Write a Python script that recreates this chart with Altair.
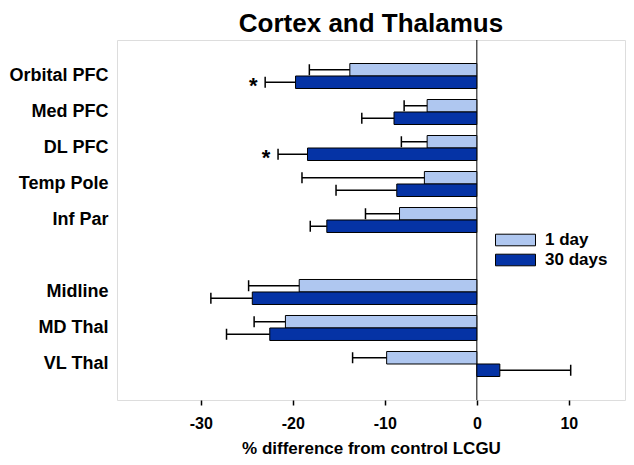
import altair as alt
import pandas as pd

# ---- data ----
regions = ["Orbital PFC", "Med PFC", "DL PFC", "Temp Pole", "Inf Par",
           "Midline", "MD Thal", "VL Thal"]
slots = ["Orbital PFC", "Med PFC", "DL PFC", "Temp Pole", "Inf Par", " ",
         "Midline", "MD Thal", "VL Thal"]
series = ["1 day", "30 days"]
day1 = [-13.8, -5.4, -5.4, -5.7, -8.4, -19.3, -20.8, -9.8]
day1_sem = [4.4, 2.5, 2.8, 13.3, 3.7, 5.5, 3.4, 3.7]
day30 = [-19.7, -9.0, -18.4, -8.7, -16.3, -24.4, -22.5, 2.5]
day30_sem = [3.3, 3.5, 3.2, 6.6, 1.8, 4.5, 4.7, 7.7]
sig30 = ["*", "", "*", "", "", "", "", ""]
x_ticks = [-30, -20, -10, 0, 10]
zero_line = [0]

rows = []
for i, r in enumerate(regions):
    for s, vals, sems, sig in ((series[0], day1, day1_sem, [""] * len(regions)),
                               (series[1], day30, day30_sem, sig30)):
        v, e = vals[i], sems[i]
        end = v + e if v > 0 else v - e
        rows.append(dict(region=r, series=s, value=v, end=end, star=sig[i]))
df = pd.DataFrame(rows)

FONT = "Arial, Liberation Sans, sans-serif"
TITLE_X = "% difference from control LCGU"

xscale = alt.Scale(domain=[-39.1, 16.1], nice=False, zero=False)
xaxis = alt.Axis(values=x_ticks, title=TITLE_X, grid=False, domain=False,
                 tickSize=5, tickColor="black", tickWidth=1.5,
                 labelFont=FONT, labelFontSize=16, labelFontWeight="bold",
                 labelColor="black", labelPadding=10,
                 labelExpr="toString(datum.value)",
                 titleFont=FONT, titleFontSize=17, titleFontWeight="bold",
                 titleColor="black", titlePadding=9)

yenc = alt.Y("region:N", title=None,
             scale=alt.Scale(domain=slots, paddingInner=0.3056, paddingOuter=0.653),
             axis=alt.Axis(ticks=False, domain=False, labelFont=FONT,
                           labelFontSize=18, labelFontWeight="bold",
                           labelColor="black", labelPadding=9, labelLimit=300))
yoff = alt.YOffset("series:N", scale=alt.Scale(domain=series, paddingInner=0, paddingOuter=0))

base = alt.Chart(df)

bars = base.mark_bar(stroke="black", strokeWidth=1).encode(
    x=alt.X("value:Q", scale=xscale, axis=xaxis),
    y=yenc, yOffset=yoff,
    color=alt.Color("series:N",
                    scale=alt.Scale(domain=series, range=["#AFC7F0", "#0533A5"]),
                    legend=alt.Legend(title=None, orient="none", legendX=378, legendY=190,
                                      symbolType="M-1,-0.29H1V0.29H-1Z", symbolSize=1600,
                                      symbolStrokeColor="black", symbolStrokeWidth=1,
                                      symbolOpacity=1, clipHeight=20, rowPadding=0,
                                      padding=0, labelOffset=9,
                                      labelFont=FONT, labelFontSize=17,
                                      labelFontWeight="bold", labelColor="black")),
)

err = base.mark_rule(color="black", strokeWidth=1.5).encode(
    x=alt.X("value:Q", scale=xscale, axis=xaxis), x2="end:Q",
    y=yenc, yOffset=yoff,
)

caps = base.mark_tick(color="black", thickness=1.5, size=11, opacity=1).encode(
    x=alt.X("end:Q", scale=xscale, axis=xaxis),
    y=yenc, yOffset=yoff,
)

stars = base.transform_filter("datum.star != ''").mark_text(
    font=FONT, fontSize=22, fontWeight="bold", color="black",
    dx=-12, dy=4, align="center", baseline="middle",
).encode(
    x=alt.X("end:Q", scale=xscale, axis=xaxis),
    y=yenc, yOffset=yoff, text="star:N",
)

zero = alt.Chart(pd.DataFrame({"x": zero_line})).mark_rule(
    color="black", strokeWidth=1).encode(x=alt.X("x:Q", scale=xscale, axis=xaxis))

chart = alt.layer(zero, bars, err, caps, stars).properties(
    width=508, height=360,
    title=alt.TitleParams("Cortex and Thalamus", font=FONT, fontSize=26,
                          fontWeight="bold", color="black", anchor="middle", offset=3),
    autosize=alt.AutoSizeParams(type="none"),
    padding={"left": 109, "top": 32, "right": 1, "bottom": 57},
).configure_view(stroke="black", strokeWidth=2).configure(background="white")

chart.save("out.html", embed_options={"renderer": "svg", "actions": False})
